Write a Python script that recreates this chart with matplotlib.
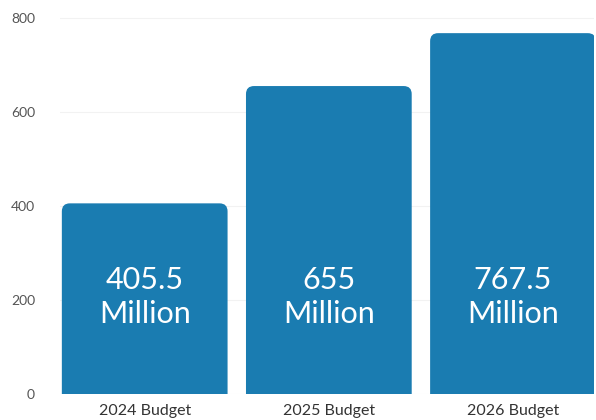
import matplotlib
matplotlib.use("Agg")
import matplotlib.pyplot as plt
from matplotlib.patches import FancyBboxPatch

# budget figures, in millions
labels = ["2024 Budget", "2025 Budget", "2026 Budget"]
values = [405.5, 655, 767.5]
value_text = ["405.5", "655", "767.5"]
yticks = [0, 200, 400, 600, 800]

plt.rcParams["font.family"] = ["Lato", "DejaVu Sans"]

fig = plt.figure(figsize=(5.96, 4.2), dpi=100)
ax = fig.add_axes([60 / 596, 1 - 394 / 420, 534 / 596, 386 / 420])

xs = range(len(values))
ax.set_xlim(-0.46, 2.44)
ax.set_ylim(0, 821)

width = 0.9
px_x = 534 / 2.9
px_y = 386 / 821
r = 8 / px_x
for x, v, t in zip(xs, values, value_text):
    box = FancyBboxPatch((x - width / 2, -30), width, v + 30,
                         boxstyle=f"round,pad=0,rounding_size={r}",
                         mutation_aspect=px_x / px_y,
                         facecolor="#1a7cb1", edgecolor="none", zorder=2)
    ax.add_patch(box)
    ax.text(x, 207, t + "\nMillion", ha="center", va="center",
            color="white", fontsize=22, fontweight="normal",
            linespacing=1.25, zorder=3)

ax.set_xticks(list(xs))
ax.set_xticklabels(labels, fontsize=11.5, color="#333333")
ax.set_yticks(yticks)
ax.set_yticklabels([str(y) for y in yticks], fontsize=10, color="#555555")
ax.tick_params(axis="both", length=0)
ax.tick_params(axis="y", pad=18)
ax.tick_params(axis="x", pad=7)
ax.grid(axis="y", color="#f2f2f2", linewidth=0.8, zorder=0)
ax.set_axisbelow(True)
for s in ax.spines.values():
    s.set_visible(False)

fig.savefig("out.png", dpi=100)
